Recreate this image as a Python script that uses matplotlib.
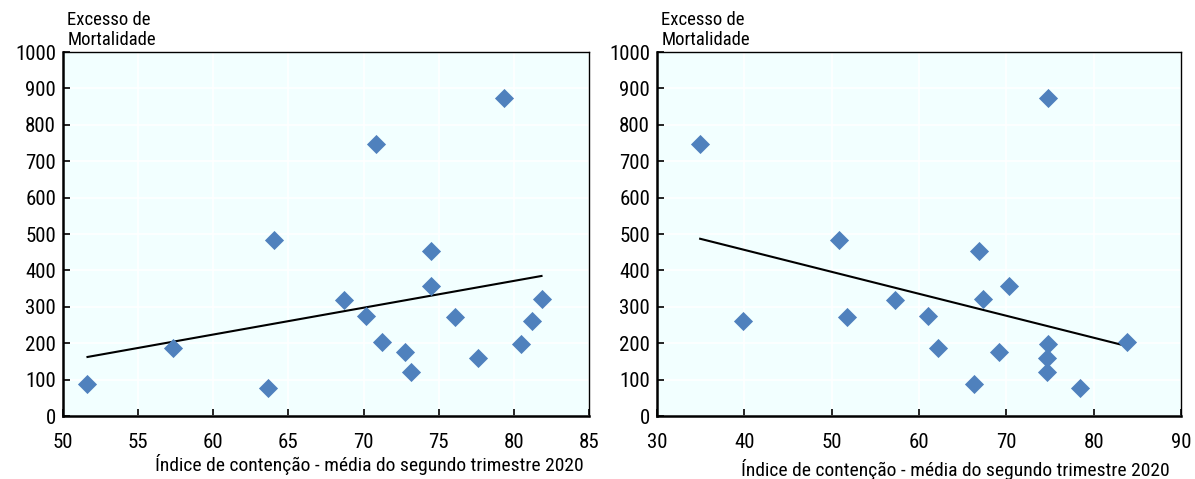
import numpy as np
import matplotlib.pyplot as plt

# excess mortality per country, same order in both panels
excess = [88, 188, 77, 483, 318, 276, 748, 202, 175, 120, 454, 356, 272, 159, 873, 197, 260, 322]
# containment index, two different measures
idx_a = [51.63, 57.32, 63.67, 64.03, 68.67, 70.18, 70.8, 71.22, 72.76, 73.16,
         74.46, 74.46, 76.07, 77.63, 79.36, 80.46, 81.22, 81.84]
idx_b = [66.35, 62.15, 78.44, 50.84, 57.21, 61.07, 34.94, 83.81, 69.17, 74.63,
         66.83, 70.25, 51.71, 74.63, 74.76, 74.76, 39.88, 67.3]

xlim_a, xticks_a = (50, 85), np.arange(50, 86, 5)
xlim_b, xticks_b = (30, 90), np.arange(30, 91, 10)
yticks = np.arange(0, 1001, 100)

ylabel = 'Excesso de\nMortalidade'
xlabel = 'Índice de contenção - média do segundo trimestre 2020'

plt.rcParams['font.family'] = ['Roboto Condensed', 'Liberation Sans', 'DejaVu Sans']

fig = plt.figure(figsize=(11.95, 4.79), dpi=100)
ax1 = fig.add_axes([63 / 1195, 63 / 479, 526 / 1195, 364 / 479])
ax2 = fig.add_axes([657 / 1195, 63 / 479, 524 / 1195, 364 / 479])


def panel(ax, x, y, xlim, xticks, xlab_pos):
    ax.set_facecolor('#F2FFFF')
    ax.set_axisbelow(True)
    ax.grid(True, color='white', lw=1.2)
    ax.scatter(x, y, marker='D', s=95, color='#4F81BD', zorder=3, linewidths=0)
    k, b = np.polyfit(x, y, 1)
    xs = np.array([min(x), max(x)])
    ax.plot(xs, k * xs + b, color='black', lw=1.5, zorder=2)
    ax.set_xlim(*xlim)
    ax.set_ylim(0, 1000)
    ax.set_xticks(xticks)
    ax.set_yticks(yticks)
    ax.tick_params(direction='in', length=5, width=1.2, labelsize=15, pad=12)
    ax.tick_params(axis='y', pad=5)
    for s in ['left', 'bottom']:
        ax.spines[s].set_linewidth(1.8)
    for s in ['top', 'right']:
        ax.spines[s].set_linewidth(1.0)
    ax.text(0.008, 1.008, ylabel, transform=ax.transAxes, ha='left', va='bottom',
            fontsize=13.5, linespacing=1.12)
    ax.set_xlabel(xlabel, fontsize=14)
    ax.xaxis.set_label_coords(*xlab_pos)


panel(ax1, idx_a, excess, xlim_a, xticks_a, (0.582, -0.105))
panel(ax2, idx_b, excess, xlim_b, xticks_b, (0.569, -0.117))

fig.savefig('out.png', dpi=100)
